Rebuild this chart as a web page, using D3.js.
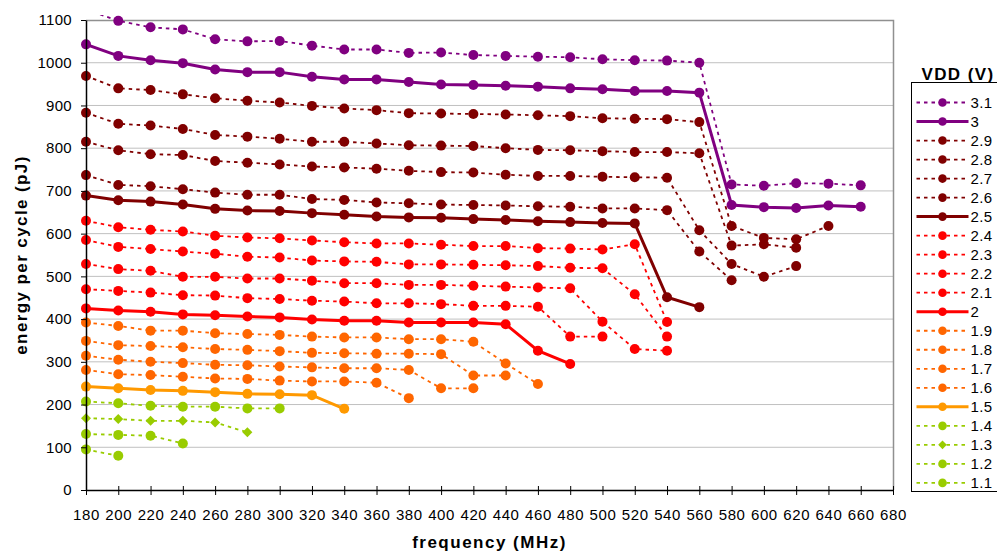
<!DOCTYPE html>
<html>
<head>
<meta charset="utf-8">
<script src="https://cdn.jsdelivr.net/npm/d3@7"></script>
<style>
  body { margin: 0; background: #fff; }
  text { font-family: "Liberation Sans", Arial, sans-serif; fill: #000; }
</style>
</head>
<body>
<div class="chart"></div>
<script>
// frequency steps (MHz) - every series starts at 180 and runs as far as it has values
var freqs = [180, 200, 220, 240, 260, 280, 300, 320, 340, 360, 380, 400, 420, 440, 460, 480, 500, 520, 540, 560, 580, 600, 620, 640, 660];
var yTicks = [0, 100, 200, 300, 400, 500, 600, 700, 800, 900, 1000, 1100];

// energy per cycle (pJ) for each VDD
var v31 = [1125, 1098, 1083, 1078, 1055, 1050, 1051, 1040, 1031, 1031, 1023, 1024, 1018, 1016, 1014, 1013, 1008, 1006, 1005, 1000, 715, 712, 718, 717, 713];
var v30 = [1043, 1016, 1006, 999, 984, 978, 978, 967, 961, 961, 955, 949, 948, 946, 944, 940, 938, 934, 934, 930, 667, 662, 660, 666, 663];
var v29 = [969, 940, 936, 926, 917, 911, 907, 899, 893, 889, 882, 881, 880, 879, 877, 875, 870, 869, 868, 861, 618, 590, 587, 618];
var v28 = [883, 857, 853, 845, 831, 827, 822, 815, 815, 811, 807, 806, 805, 800, 796, 795, 793, 791, 791, 788, 572, 575, 567];
var v27 = [815, 795, 786, 784, 770, 766, 762, 757, 755, 752, 747, 744, 743, 738, 735, 735, 733, 732, 731, 608, 529, 499, 524];
var v26 = [737, 714, 711, 704, 696, 691, 691, 681, 679, 673, 671, 668, 667, 666, 664, 663, 659, 659, 655, 558, 491];
var v25 = [689, 678, 675, 668, 658, 654, 653, 648, 644, 640, 638, 637, 634, 632, 629, 627, 625, 624, 451, 428];
var v24 = [630, 615, 609, 605, 595, 591, 589, 584, 580, 577, 577, 574, 571, 571, 566, 565, 563, 575, 393];
var v23 = [585, 569, 564, 558, 553, 546, 544, 537, 535, 534, 528, 528, 527, 526, 524, 520, 519, 458, 359];
var v22 = [529, 517, 513, 499, 499, 495, 495, 490, 484, 484, 480, 480, 478, 476, 474, 472, 394, 330, 326];
var v21 = [470, 466, 462, 456, 455, 449, 447, 443, 441, 437, 437, 435, 431, 431, 429, 359, 359];
var v20 = [425, 420, 417, 411, 409, 406, 404, 399, 396, 396, 392, 392, 392, 388, 326, 295];
var v19 = [392, 384, 373, 373, 367, 365, 363, 359, 357, 357, 353, 353, 347, 296, 248];
var v18 = [349, 339, 337, 334, 330, 328, 325, 321, 320, 319, 319, 318, 268, 268];
var v17 = [314, 305, 300, 297, 293, 292, 289, 287, 285, 285, 281, 238, 238];
var v16 = [281, 271, 269, 265, 261, 260, 256, 254, 254, 251, 215];
var v15 = [242, 238, 234, 232, 229, 225, 224, 222, 190];
var v14 = [207, 203, 197, 195, 195, 191, 191];
var v13 = [168, 166, 162, 162, 158, 135];
var v12 = [131, 129, 127, 109];
var v11 = [95, 80];

var purple = "#800080", maroon = "#800000", red = "#ff0000", orange = "#ff6600", amber = "#ff9900", lime = "#99cc00";

// series table built from the arrays above
var series = [
    { name: "3.1", values: v31, color: purple, solid: false },
    { name: "3",   values: v30, color: purple, solid: true },
    { name: "2.9", values: v29, color: maroon, solid: false },
    { name: "2.8", values: v28, color: maroon, solid: false },
    { name: "2.7", values: v27, color: maroon, solid: false },
    { name: "2.6", values: v26, color: maroon, solid: false },
    { name: "2.5", values: v25, color: maroon, solid: true },
    { name: "2.4", values: v24, color: red, solid: false },
    { name: "2.3", values: v23, color: red, solid: false },
    { name: "2.2", values: v22, color: red, solid: false },
    { name: "2.1", values: v21, color: red, solid: false },
    { name: "2",   values: v20, color: red, solid: true },
    { name: "1.9", values: v19, color: orange, solid: false },
    { name: "1.8", values: v18, color: orange, solid: false },
    { name: "1.7", values: v17, color: orange, solid: false },
    { name: "1.6", values: v16, color: orange, solid: false },
    { name: "1.5", values: v15, color: amber, solid: true },
    { name: "1.4", values: v14, color: lime, solid: false },
    { name: "1.3", values: v13, color: lime, solid: false, diamond: true },
    { name: "1.2", values: v12, color: lime, solid: false },
    { name: "1.1", values: v11, color: lime, solid: false }
];

// Set up chart
var svgWidth = 997;
var svgHeight = 553;
var margin = { top: 20, right: 104, bottom: 63, left: 86 };
var width = svgWidth - margin.left - margin.right;
var height = svgHeight - margin.top - margin.bottom;

var svg = d3.select(".chart")
    .append("svg")
    .attr("width", svgWidth)
    .attr("height", svgHeight);

var chart = svg.append("g")
    .attr("transform", "translate(" + margin.left + "," + margin.top + ")");

var x = d3.scaleLinear().domain([180, 680]).range([0, width]);
var y = d3.scaleLinear().domain([0, 1100]).range([height, 0]);

// gridlines
chart.append("g").selectAll("line")
    .data(yTicks.filter(function (d) { return d > 0 && d < 1100; }))
    .enter().append("line")
    .attr("x1", 0).attr("x2", width)
    .attr("y1", function (d) { return y(d); })
    .attr("y2", function (d) { return y(d); })
    .attr("stroke", "#c0c0c0")
    .attr("stroke-width", 1);

// plot area border (top + right)
chart.append("path")
    .attr("d", "M0,0.5H" + (width + 0.5) + "V" + height)
    .attr("fill", "none")
    .attr("stroke", "#909090")
    .attr("stroke-width", 1.5);

// clip for lines (Excel lets lines run a few px past the top)
svg.append("defs").append("clipPath").attr("id", "plotclip")
    .append("rect").attr("x", 0).attr("y", -5).attr("width", width).attr("height", height + 5);

var line = d3.line()
    .x(function (d, i) { return x(freqs[i]); })
    .y(function (d) { return y(d); });

function drawMarker(g, s, cx, cy, r) {
    if (s.diamond) {
        g.append("path")
            .attr("d", d3.symbol().type(d3.symbolSquare).size(r * r * 2)())
            .attr("transform", "translate(" + cx + "," + cy + ") rotate(45)")
            .attr("fill", s.color);
    } else {
        g.append("circle").attr("cx", cx).attr("cy", cy).attr("r", r).attr("fill", s.color);
    }
}

// series
series.forEach(function (s) {
    var g = chart.append("g");
    g.append("path")
        .datum(s.values)
        .attr("clip-path", "url(#plotclip)")
        .attr("d", line)
        .attr("fill", "none")
        .attr("stroke", s.color)
        .attr("stroke-width", s.solid ? 3 : 1.8)
        .attr("stroke-dasharray", s.solid ? null : "3.5,4");
    s.values.forEach(function (v, i) {
        if (v > 1100) return;
        drawMarker(g, s, x(freqs[i]), y(v), 5);
    });
});

// axes
var bottomAxis = d3.axisBottom(x).tickValues(d3.range(180, 681, 20)).tickSize(4).tickPadding(15).tickSizeOuter(0);
var leftAxis = d3.axisLeft(y).tickValues(yTicks).tickFormat(d3.format("d")).tickSize(5).tickPadding(9).tickSizeOuter(0);

var xg = chart.append("g")
    .attr("transform", "translate(0," + height + ")")
    .call(bottomAxis);
xg.selectAll(".tick line").attr("y1", -4).attr("y2", 5).attr("stroke", "#000");
xg.select(".domain").attr("stroke", "#000").attr("stroke-width", 1.5);
xg.selectAll("text").attr("font-size", "15px").attr("letter-spacing", "0.6px")
    .attr("font-family", "'Liberation Sans', Arial, sans-serif").attr("fill", "#000");

var yg = chart.append("g").call(leftAxis);
yg.selectAll(".tick line").attr("stroke", "#000");
yg.select(".domain").attr("stroke", "#000").attr("stroke-width", 1.5);
yg.selectAll("text").attr("font-size", "15px").attr("letter-spacing", "0.3px")
    .attr("font-family", "'Liberation Sans', Arial, sans-serif").attr("fill", "#000");

// axis titles
chart.append("text")
    .attr("x", width / 2)
    .attr("y", height + 58)
    .attr("text-anchor", "middle")
    .attr("font-size", "17px")
    .attr("font-weight", "bold")
    .attr("letter-spacing", "1.5px")
    .text("frequency (MHz)");

chart.append("text")
    .attr("transform", "translate(" + (27 - margin.left) + "," + (height / 2) + ") rotate(-90)")
    .attr("text-anchor", "middle")
    .attr("font-size", "17px")
    .attr("font-weight", "bold")
    .attr("letter-spacing", "1.4px")
    .text("energy per cycle (pJ)");

// legend
var legend = svg.append("g");
legend.append("text")
    .attr("x", 958)
    .attr("y", 80)
    .attr("text-anchor", "middle")
    .attr("font-size", "17px")
    .attr("font-weight", "bold")
    .attr("letter-spacing", "1.4px")
    .text("VDD (V)");

legend.append("rect")
    .attr("x", 911.5).attr("y", 82.5)
    .attr("width", 100).attr("height", 409)
    .attr("fill", "#fff")
    .attr("stroke", "#000")
    .attr("stroke-width", 1);

series.forEach(function (s, i) {
    var ly = 102.5 + i * 19.02;
    var item = legend.append("g");
    item.append("line")
        .attr("x1", 916.5).attr("x2", 968.5)
        .attr("y1", ly).attr("y2", ly)
        .attr("stroke", s.color)
        .attr("stroke-width", s.solid ? 3 : 1.8)
        .attr("stroke-dasharray", s.solid ? null : "3.5,4");
    drawMarker(item, s, 942.5, ly, 4.3);
    item.append("text")
        .attr("x", 970.5)
        .attr("y", ly + 5.3)
        .attr("font-size", "15px")
        .attr("letter-spacing", "0.4px")
        .text(s.name);
});
</script>
</body>
</html>
